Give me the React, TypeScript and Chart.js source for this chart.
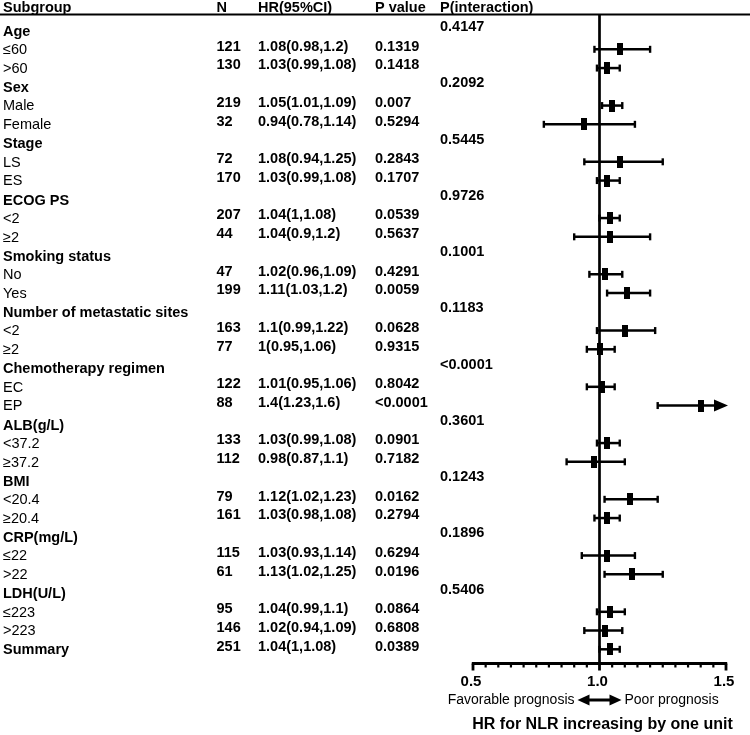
import React, { useEffect, useRef } from "react";
import { Chart, registerables } from "chart.js";

Chart.register(...registerables);

const subgroupLabels = [
  "Age", "≤60", ">60",
  "Sex", "Male", "Female",
  "Stage", "LS", "ES",
  "ECOG PS", "<2", "≥2",
  "Smoking status", "No", "Yes",
  "Number of metastatic sites", "<2", "≥2",
  "Chemotherapy regimen", "EC", "EP",
  "ALB(g/L)", "<37.2", "≥37.2",
  "BMI", "<20.4", "≥20.4",
  "CRP(mg/L)", "≤22", ">22",
  "LDH(U/L)", "≤223", ">223",
  "Summary",
];

const nValues = [
  null, 121, 130,
  null, 219, 32,
  null, 72, 170,
  null, 207, 44,
  null, 47, 199,
  null, 163, 77,
  null, 122, 88,
  null, 133, 112,
  null, 79, 161,
  null, 115, 61,
  null, 95, 146,
  251,
];

const hrValues = [
  null, 1.08, 1.03,
  null, 1.05, 0.94,
  null, 1.08, 1.03,
  null, 1.04, 1.04,
  null, 1.02, 1.11,
  null, 1.1, 1,
  null, 1.01, 1.4,
  null, 1.03, 0.98,
  null, 1.12, 1.03,
  null, 1.03, 1.13,
  null, 1.04, 1.02,
  1.04,
];

const ciLower = [
  null, 0.98, 0.99,
  null, 1.01, 0.78,
  null, 0.94, 0.99,
  null, 1, 0.9,
  null, 0.96, 1.03,
  null, 0.99, 0.95,
  null, 0.95, 1.23,
  null, 0.99, 0.87,
  null, 1.02, 0.98,
  null, 0.93, 1.02,
  null, 0.99, 0.94,
  1,
];

const ciUpper = [
  null, 1.2, 1.08,
  null, 1.09, 1.14,
  null, 1.25, 1.08,
  null, 1.08, 1.2,
  null, 1.09, 1.2,
  null, 1.22, 1.06,
  null, 1.06, 1.6,
  null, 1.08, 1.1,
  null, 1.23, 1.08,
  null, 1.14, 1.25,
  null, 1.1, 1.09,
  1.08,
];

const pValues = [
  null, "0.1319", "0.1418",
  null, "0.007", "0.5294",
  null, "0.2843", "0.1707",
  null, "0.0539", "0.5637",
  null, "0.4291", "0.0059",
  null, "0.0628", "0.9315",
  null, "0.8042", "<0.0001",
  null, "0.0901", "0.7182",
  null, "0.0162", "0.2794",
  null, "0.6294", "0.0196",
  null, "0.0864", "0.6808",
  "0.0389",
];

const pInteraction = [
  "0.4147", null, null,
  "0.2092", null, null,
  "0.5445", null, null,
  "0.9726", null, null,
  "0.1001", null, null,
  "0.1183", null, null,
  "<0.0001", null, null,
  "0.3601", null, null,
  "0.1243", null, null,
  "0.1896", null, null,
  "0.5406", null, null,
  null,
];

const columnHeaders = ["Subgroup", "N", "HR(95%CI)", "P value", "P(interaction)"];
const axisTickValues = [0.5, 1.0, 1.5];
const axisTickLabels = ["0.5", "1.0", "1.5"];
const xMin = 0.5;
const xMax = 1.5;
const minorStep = 0.05;
const favorableText = "Favorable prognosis";
const poorText = "Poor prognosis";
const axisTitle = "HR for NLR increasing by one unit";

const FONT = '"Liberation Sans", Arial, sans-serif';

const forestPlugin = {
  id: "forestPlugin",
  beforeDatasetsDraw(chart: any) {
    const ctx = chart.ctx as CanvasRenderingContext2D;
    const xs = chart.scales.x;
    const ys = chart.scales.y;
    const area = chart.chartArea;
    ctx.save();
    ctx.strokeStyle = "#000";
    ctx.fillStyle = "#000";

    // header rule
    ctx.lineWidth = 2;
    ctx.beginPath();
    ctx.moveTo(0, 14.5);
    ctx.lineTo(chart.width, 14.5);
    ctx.stroke();

    // reference line at HR = 1
    const x1 = xs.getPixelForValue(1);
    ctx.lineWidth = 2.7;
    ctx.beginPath();
    ctx.moveTo(x1, area.top);
    ctx.lineTo(x1, area.bottom + 1);
    ctx.stroke();

    // x axis
    const ax0 = xs.getPixelForValue(xMin);
    const ax1 = xs.getPixelForValue(xMax);
    const ay = area.bottom;
    ctx.lineWidth = 3;
    ctx.beginPath();
    ctx.moveTo(ax0 - 1.2, ay);
    ctx.lineTo(ax1 + 1.2, ay);
    ctx.stroke();
    const nTicks = Math.round((xMax - xMin) / minorStep);
    for (let k = 0; k <= nTicks; k++) {
      const v = xMin + k * minorStep;
      const px = xs.getPixelForValue(v);
      const major = k % 10 === 0;
      ctx.lineWidth = major ? 2.8 : 2.2;
      ctx.beginPath();
      ctx.moveTo(px, ay);
      ctx.lineTo(px, ay + (major ? 7 : 4));
      ctx.stroke();
    }

    // confidence intervals
    for (let i = 0; i < subgroupLabels.length; i++) {
      const lo = ciLower[i];
      const hi = ciUpper[i];
      if (lo == null || hi == null) continue;
      const py = ys.getPixelForValue(i);
      const pl = xs.getPixelForValue(Math.max(lo, xMin));
      const clipped = hi > xMax;
      const ph = xs.getPixelForValue(Math.min(hi, xMax));
      ctx.lineWidth = 2.5;
      ctx.beginPath();
      ctx.moveTo(pl, py);
      ctx.lineTo(clipped ? ph - 10 : ph, py);
      ctx.stroke();
      // caps
      ctx.lineWidth = 2.4;
      ctx.beginPath();
      ctx.moveTo(pl, py - 3.5);
      ctx.lineTo(pl, py + 3.5);
      ctx.stroke();
      if (clipped) {
        ctx.beginPath();
        ctx.moveTo(ph + 2, py);
        ctx.lineTo(ph - 12, py - 6);
        ctx.lineTo(ph - 12, py + 6);
        ctx.closePath();
        ctx.fill();
      } else {
        ctx.beginPath();
        ctx.moveTo(ph, py - 3.5);
        ctx.lineTo(ph, py + 3.5);
        ctx.stroke();
      }
    }
    ctx.restore();
  },
  afterDraw(chart: any) {
    const ctx = chart.ctx as CanvasRenderingContext2D;
    const xs = chart.scales.x;
    const ys = chart.scales.y;
    const area = chart.chartArea;
    ctx.save();
    ctx.fillStyle = "#000";
    ctx.textBaseline = "middle";
    ctx.textAlign = "left";

    const colX = [3, 216.5, 258, 375, 440];
    ctx.font = `bold 14.5px ${FONT}`;
    columnHeaders.forEach((h, c) => ctx.fillText(h, colX[c], 7.5));

    for (let i = 0; i < subgroupLabels.length; i++) {
      const py = ys.getPixelForValue(i);
      const isHeader = nValues[i] == null;
      const bold = isHeader || subgroupLabels[i] === "Summary";
      ctx.font = `${bold ? "bold " : ""}14.5px ${FONT}`;
      ctx.fillText(subgroupLabels[i], colX[0], py + (isHeader ? 1.2 : 0.8));
      ctx.font = `bold 14.5px ${FONT}`;
      if (nValues[i] != null) {
        ctx.fillText(String(nValues[i]), colX[1], py - 2.6);
        ctx.fillText(
          `${hrValues[i]}(${ciLower[i]},${ciUpper[i]})`,
          colX[2],
          py - 2.6
        );
        ctx.fillText(String(pValues[i]), colX[3], py - 2.6);
      }
      if (pInteraction[i] != null) {
        ctx.fillText(String(pInteraction[i]), colX[4], py - 3.5);
      }
    }

    // axis tick labels
    ctx.textAlign = "center";
    ctx.font = `bold 15px ${FONT}`;
    axisTickValues.forEach((v, k) => {
      ctx.fillText(axisTickLabels[k], xs.getPixelForValue(v) - 2, area.bottom + 18.5);
    });

    // prognosis direction
    const x1 = xs.getPixelForValue(1);
    const yArr = area.bottom + 36.5;
    ctx.font = `14px ${FONT}`;
    ctx.textAlign = "right";
    ctx.fillText(favorableText, x1 - 25, yArr);
    ctx.textAlign = "left";
    ctx.fillText(poorText, x1 + 25, yArr);
    ctx.lineWidth = 3;
    ctx.strokeStyle = "#000";
    ctx.beginPath();
    ctx.moveTo(x1 - 12, yArr);
    ctx.lineTo(x1 + 12, yArr);
    ctx.stroke();
    ctx.beginPath();
    ctx.moveTo(x1 - 22, yArr);
    ctx.lineTo(x1 - 10, yArr - 5.5);
    ctx.lineTo(x1 - 10, yArr + 5.5);
    ctx.closePath();
    ctx.fill();
    ctx.beginPath();
    ctx.moveTo(x1 + 22, yArr);
    ctx.lineTo(x1 + 10, yArr - 5.5);
    ctx.lineTo(x1 + 10, yArr + 5.5);
    ctx.closePath();
    ctx.fill();

    // axis title
    ctx.textAlign = "center";
    ctx.font = `bold 16px ${FONT}`;
    ctx.fillText(axisTitle, x1 + 3, area.bottom + 61.5);
    ctx.restore();
  },
};

export default function App() {
  const canvasRef = useRef<HTMLCanvasElement | null>(null);

  useEffect(() => {
    document.body.style.margin = "0";
    const canvas = canvasRef.current;
    if (!canvas) return;

    const marker = document.createElement("canvas");
    marker.width = 6;
    marker.height = 12;
    const mctx = marker.getContext("2d");
    if (mctx) {
      mctx.fillStyle = "#000";
      mctx.fillRect(0, 0, 6, 12);
    }

    const points: { x: number; y: number }[] = [];
    hrValues.forEach((v, i) => {
      if (v != null) points.push({ x: v, y: i });
    });

    const chart = new Chart(canvas, {
      type: "scatter",
      data: {
        datasets: [
          {
            data: points,
            pointStyle: marker as any,
            pointRadius: 6,
            backgroundColor: "#000",
            borderColor: "#000",
            clip: false as any,
          },
        ],
      },
      options: {
        responsive: false,
        animation: false,
        devicePixelRatio: 1,
        layout: { padding: { left: 473, right: 24, top: 15, bottom: 71.5 } },
        scales: {
          x: { type: "linear", min: xMin, max: xMax, display: false },
          y: { type: "linear", min: -0.83, max: 33.757, reverse: true, display: false },
        },
        plugins: {
          legend: { display: false },
          tooltip: { enabled: false },
        },
      },
      plugins: [forestPlugin],
    });

    return () => chart.destroy();
  }, []);

  return (
    <div style={{ width: 750, height: 735, background: "#fff" }}>
      <canvas ref={canvasRef} width={750} height={735} style={{ display: "block" }} />
    </div>
  );
}
